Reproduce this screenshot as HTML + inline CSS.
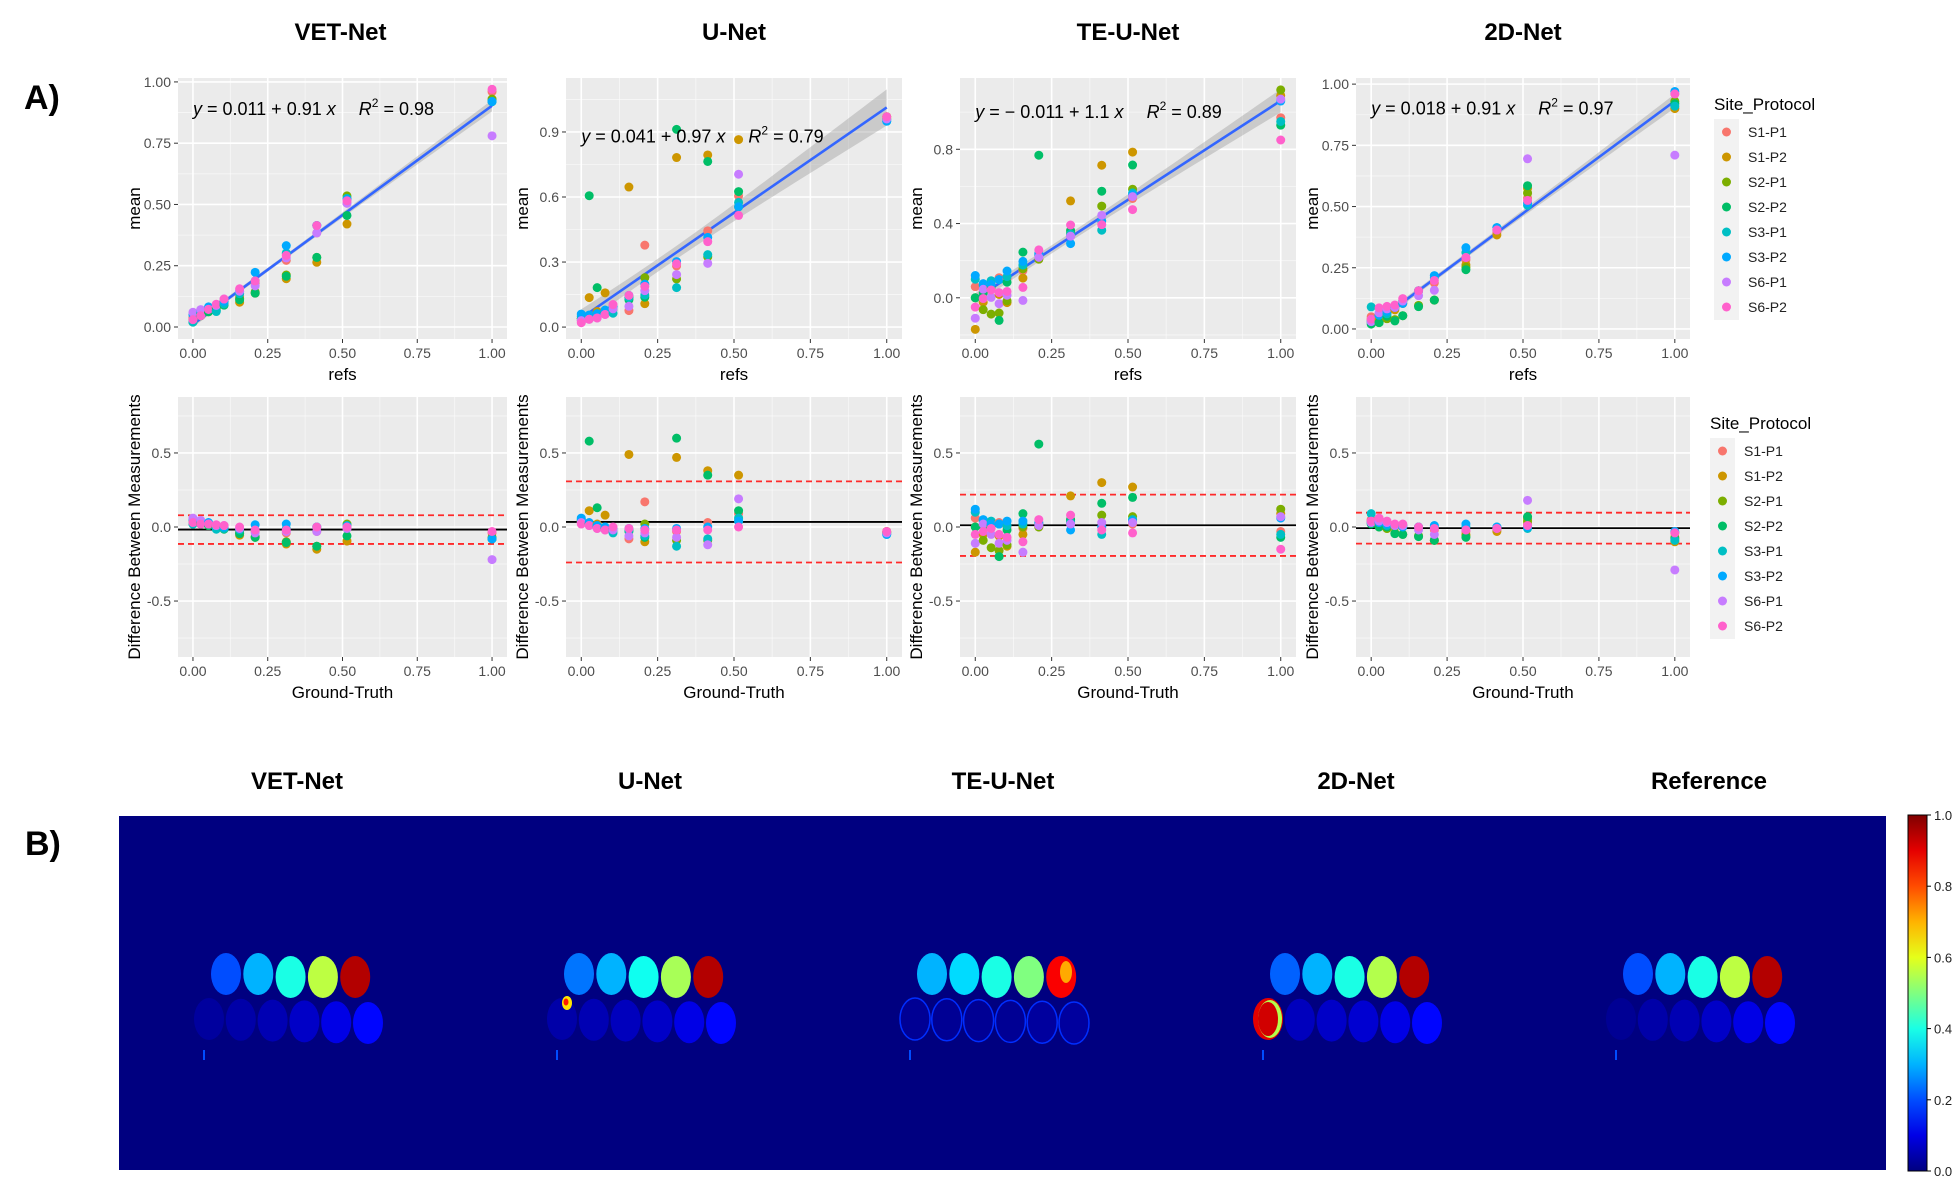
<!DOCTYPE html>
<html><head><meta charset="utf-8"><title>Model comparison</title>
<style>
html,body{margin:0;padding:0;background:#fff;}
svg{display:block;font-family:"Liberation Sans",Arial,sans-serif;}
</style></head>
<body>
<svg id="fig" width="1954" height="1178" viewBox="0 0 1954 1178" xmlns="http://www.w3.org/2000/svg">
<rect x="0" y="0" width="1954" height="1178" fill="#fff"/>
<text x="24" y="109" font-size="34" font-weight="bold">A)</text>
<text x="25" y="855" font-size="34" font-weight="bold">B)</text>
</svg>
<script>
// ---------- DATA ----------
const seriesNames = ["S1-P1","S1-P2","S2-P1","S2-P2","S3-P1","S3-P2","S6-P1","S6-P2"];
const seriesColors = ["#F8766D","#CD9600","#7CAE00","#00BE67","#00BFC4","#00A9FF","#C77CFF","#FF61CC"];
const refs = [0,0.026,0.052,0.078,0.104,0.156,0.208,0.312,0.414,0.515,1.0];
const modelNames = ["VET-Net","U-Net","TE-U-Net","2D-Net"];
// differences (mean - ref); rows = refs, columns = series
const diffVET = [
 [0.04,0.03,0.03,0.02,0.02,0.05,0.06,0.03],
 [0.03,0.02,0.03,0.02,0.03,0.04,0.045,0.02],
 [0.02,0.02,0.01,0.01,0.02,0.03,0.02,0.02],
 [0.01,0.0,0.0,-0.01,-0.015,0.01,0.01,0.015],
 [0.0,0.0,-0.01,-0.015,-0.01,0.0,0.01,0.01],
 [-0.03,-0.055,-0.04,-0.045,-0.02,-0.01,-0.01,0.0],
 [-0.03,-0.07,-0.065,-0.07,-0.02,0.015,-0.04,-0.02],
 [-0.04,-0.115,-0.1,-0.105,-0.01,0.02,-0.03,-0.02],
 [-0.03,-0.15,-0.13,-0.13,0.0,0.0,-0.03,0.0],
 [-0.01,-0.095,0.02,-0.06,0.01,0.005,-0.01,0.0],
 [-0.04,-0.08,-0.07,-0.08,-0.08,-0.08,-0.22,-0.03]
];
const diffUNet = [
 [0.03,0.04,0.04,0.04,0.05,0.06,0.03,0.02],
 [0.02,0.11,0.02,0.58,0.02,0.03,0.01,0.01],
 [0.0,0.02,0.01,0.13,0.0,0.01,-0.01,-0.01],
 [-0.01,0.08,-0.01,-0.01,0.0,0.0,-0.02,-0.02],
 [-0.01,-0.02,-0.02,-0.02,-0.04,-0.01,-0.02,0.0],
 [-0.08,0.49,-0.02,-0.03,-0.02,-0.01,-0.06,-0.01],
 [0.17,-0.1,0.02,-0.07,-0.06,-0.01,-0.04,-0.02],
 [-0.03,0.47,-0.09,0.6,-0.13,-0.01,-0.07,-0.02],
 [0.03,0.38,-0.09,0.35,-0.08,0.0,-0.12,-0.02],
 [0.09,0.35,0.04,0.11,0.06,0.04,0.19,0.0],
 [-0.03,-0.03,-0.04,-0.04,-0.05,-0.05,-0.04,-0.03]
];
const diffTEUNet = [
 [0.06,-0.17,0.0,0.0,0.10,0.12,-0.11,-0.05],
 [0.01,-0.05,-0.09,0.0,0.04,0.05,0.02,-0.03],
 [0.02,0.0,-0.14,0.01,0.04,0.02,-0.05,-0.01],
 [0.03,-0.06,-0.16,-0.2,0.02,0.02,-0.11,-0.05],
 [0.0,-0.13,-0.12,-0.02,0.01,0.04,-0.09,-0.07],
 [-0.01,-0.05,0.0,0.09,0.02,0.04,-0.17,-0.1],
 [0.02,0.0,0.0,0.56,0.02,0.03,0.01,0.05],
 [0.02,0.21,0.04,0.05,0.03,-0.02,0.02,0.08],
 [0.0,0.3,0.08,0.16,-0.05,0.0,0.03,-0.02],
 [0.02,0.27,0.07,0.2,0.05,0.04,0.03,-0.04],
 [-0.03,0.09,0.12,-0.07,-0.05,0.06,0.07,-0.15]
];
const diff2DNet = [
 [0.05,0.04,0.03,0.02,0.09,0.03,0.03,0.04],
 [0.02,0.01,0.0,0.0,0.03,0.03,0.04,0.06],
 [0.02,-0.01,-0.01,0.0,0.01,0.02,0.03,0.04],
 [0.01,0.0,-0.04,-0.045,0.01,0.01,0.01,0.02],
 [0.01,0.0,-0.05,-0.05,0.01,0.0,0.01,0.02],
 [0.0,-0.06,-0.06,-0.065,0.0,0.0,-0.02,0.0],
 [-0.02,-0.09,-0.09,-0.09,0.0,0.01,-0.05,-0.01],
 [-0.03,-0.05,-0.06,-0.07,0.0,0.02,-0.02,-0.02],
 [-0.02,-0.03,-0.01,-0.01,0.0,0.0,-0.01,-0.01],
 [0.02,0.06,0.04,0.07,-0.01,0.0,0.18,0.01],
 [-0.04,-0.1,-0.07,-0.08,-0.09,-0.03,-0.29,-0.04]
];
const eqIntercepts = ["0.011","0.041","\u2212 0.011","0.018"];
const eqSlopes = ["0.91","0.97","1.1","0.91"];
const eqR2 = ["0.98","0.79","0.89","0.97"];
const topYTicks = [[0,0.25,0.5,0.75,1],[0,0.3,0.6,0.9],[0,0.4,0.8],[0,0.25,0.5,0.75,1]];
const xTicks = [0,0.25,0.5,0.75,1];
const baYTicks = [-0.5,0,0.5];
const cbTicks = [0,0.2,0.4,0.6,0.8,1.0];
// heatmap vial values (0..1)
const heatNames = ["VET-Net","U-Net","TE-U-Net","2D-Net","Reference"];
const heatTop = [[0.2,0.3,0.4,0.56,0.95],[0.24,0.3,0.39,0.54,0.95],[0.3,0.34,0.4,0.5,0.88],[0.22,0.3,0.4,0.55,0.95],[0.2,0.3,0.4,0.56,0.95]];
const heatBottom = [[0.03,0.04,0.05,0.07,0.1,0.13],[0.04,0.05,0.06,0.07,0.1,0.13],[0.02,0.02,0.02,0.02,0.03,0.03],[0.9,0.06,0.07,0.08,0.1,0.13],[0.02,0.04,0.05,0.07,0.1,0.13]];

// ---------- LAYOUT ----------
const diffs = [diffVET,diffUNet,diffTEUNet,diff2DNet];
const colL = [178,566,960,1356], colW = [329,336,336,334];
const xDom = [-0.05,1.05];
const topDom = [[-0.049,1.016],[-0.055,1.149],[-0.222,1.184],[-0.041,1.025]];
const topY0 = 78, topY1 = 339, baY0 = 397, baY1 = 657, baDom = [-0.878,0.878];
const eqYPos = [0.89,0.88,1.0,0.9];
const tickDec = [2,1,1,2];
const svg = document.getElementById('fig');
const NS = 'http://www.w3.org/2000/svg';
function mk(tag, attrs, parent){const e=document.createElementNS(NS,tag);for(const k in attrs)e.setAttribute(k,attrs[k]);(parent||svg).appendChild(e);return e;}

function jet(v){v=Math.max(0,Math.min(1,v));
  const r=Math.max(0,Math.min(1,Math.min(4*v-1.5,-4*v+4.5)));
  const g=Math.max(0,Math.min(1,Math.min(4*v-0.5,-4*v+3.5)));
  const b=Math.max(0,Math.min(1,Math.min(4*v+0.5,-4*v+2.5)));
  return `rgb(${Math.round(r*255)},${Math.round(g*255)},${Math.round(b*255)})`;}

function drawPanel(c, isBA){
  const L=colL[c], W=colW[c], T=isBA?baY0:topY0, B=isBA?baY1:topY1;
  const yd = isBA?baDom:topDom[c];
  const sx = v=> L + (v-xDom[0])/(xDom[1]-xDom[0])*W;
  const sy = v=> B - (v-yd[0])/(yd[1]-yd[0])*(B-T);
  const g = mk('g',{});
  
  
  mk('rect',{x:L,y:T,width:W,height:B-T,fill:'#EBEBEB'},g);
  const yt = isBA?baYTicks:topYTicks[c];
  const step = yt[1]-yt[0];
  for(let v=yt[0]-step/2; v<=yd[1]; v+=step){ if(v>yd[0]) mk('line',{x1:L,x2:L+W,y1:sy(v),y2:sy(v),stroke:'#fff','stroke-width':0.8,opacity:0.6},g);}
  for(let i=0;i<xTicks.length-1;i++){const v=(xTicks[i]+xTicks[i+1])/2; mk('line',{x1:sx(v),x2:sx(v),y1:T,y2:B,stroke:'#fff','stroke-width':0.8,opacity:0.6},g);}
  yt.forEach(v=>{
    mk('line',{x1:L,x2:L+W,y1:sy(v),y2:sy(v),stroke:'#fff','stroke-width':1.6},g);
    mk('line',{x1:L-4,x2:L,y1:sy(v),y2:sy(v),stroke:'#333','stroke-width':1},g);
    const t=mk('text',{x:L-7,y:sy(v)+5,'font-size':14,fill:'#4D4D4D','text-anchor':'end'},g);
    t.textContent = isBA? v.toFixed(1) : v.toFixed(tickDec[c]);
    
    
  });
  xTicks.forEach(v=>{
    mk('line',{x1:sx(v),x2:sx(v),y1:T,y2:B,stroke:'#fff','stroke-width':1.6},g);
    mk('line',{x1:sx(v),x2:sx(v),y1:B,y2:B+4,stroke:'#333','stroke-width':1},g);
    const t=mk('text',{x:sx(v),y:B+19,'font-size':14,fill:'#4D4D4D','text-anchor':'middle'},g);
    t.textContent=v.toFixed(2);
    
    
  });
  const D = diffs[c];
  if(!isBA){
    const xs=[],ys=[];
    refs.forEach((r,i)=>D[i].forEach(d=>{xs.push(r);ys.push(r+d);}));
    const n=xs.length, mx=xs.reduce((a,b)=>a+b)/n, my=ys.reduce((a,b)=>a+b)/n;
    let sxx=0,sxy=0; for(let i=0;i<n;i++){sxx+=(xs[i]-mx)**2;sxy+=(xs[i]-mx)*(ys[i]-my);}
    const b=sxy/sxx, a=my-b*mx;
    let sse=0; for(let i=0;i<n;i++) sse+=(ys[i]-a-b*xs[i])**2;
    const s=Math.sqrt(sse/(n-2));
    const up=[],lo=[];
    for(let k=0;k<=40;k++){const x=k/40; const h=1.99*s*Math.sqrt(1/n+(x-mx)**2/sxx); up.push(sx(x)+','+sy(a+b*x+h)); lo.unshift(sx(x)+','+sy(a+b*x-h));}
    const band=mk('polygon',{points:up.concat(lo).join(' '),fill:'#999',opacity:0.4},g);
    
    
    const fit=mk('line',{x1:sx(0),y1:sy(a),x2:sx(1),y2:sy(a+b),stroke:'#3366FF','stroke-width':2.6},g);
    
    
  } else {
    const all=[]; D.forEach(row=>row.forEach(d=>all.push(d)));
    const n=all.length, m=all.reduce((a,b)=>a+b)/n;
    const sd=Math.sqrt(all.reduce((a,b)=>a+(b-m)**2,0)/(n-1));
    [m+1.96*sd, m-1.96*sd].forEach((v,k)=>{
      const l=mk('line',{x1:L,x2:L+W,y1:sy(v),y2:sy(v),stroke:'#FF2A2A','stroke-width':1.8,'stroke-dasharray':'6,4'},g);
      
      
    });
    const ml=mk('line',{x1:L,x2:L+W,y1:sy(m),y2:sy(m),stroke:'#000','stroke-width':1.8},g);
    
    
  }
  refs.forEach((r,i)=>{
    D[i].forEach((d,s)=>{
      const yv = isBA? d : r+d;
      const p=mk('circle',{cx:sx(r),cy:sy(yv),r:4.5,fill:seriesColors[s]},g);
      
      
    });
  });
  const cxm = sx(0.5);
  const xt=mk('text',{x:cxm,y:B+41,'font-size':17,'text-anchor':'middle',fill:'#000'},g);
  xt.textContent = isBA?'Ground-Truth':'refs';
  
  
  const yx = L-38, ym=(T+B)/2;
  const ytt=mk('text',{x:yx,y:ym,'font-size':17,'text-anchor':'middle',fill:'#000',transform:`rotate(-90 ${yx} ${ym})`},g);
  ytt.textContent = isBA?'Difference Between Measurements':'mean';
  
  
  if(!isBA){
    const eq=mk('text',{x:sx(0),y:sy(eqYPos[c])+6,'font-size':18,fill:'#000'},g);
    
    
    eq.innerHTML = `<tspan font-style="italic">y</tspan> = ${eqIntercepts[c]} + ${eqSlopes[c]} <tspan font-style="italic">x</tspan>\u2003 <tspan font-style="italic">R</tspan><tspan dy="-8" font-size="12">2</tspan><tspan dy="8"> = ${eqR2[c]}</tspan>`;
  }
}
for(let c=0;c<4;c++){
  const t=mk('text',{x:colL[c]+colW[c]/2+ (c===0?-2:0),y:40,'font-size':24,'font-weight':'bold','text-anchor':'middle'});
  t.textContent=modelNames[c];
  
  
  drawPanel(c,false); drawPanel(c,true);
}
function legend(x,yTitle,yBox){
  const g=mk('g',{});
  
  
  const t=mk('text',{x:x,y:yTitle+6,'font-size':17},g); t.textContent='Site_Protocol';
  mk('rect',{x:x,y:yBox,width:25,height:201,fill:'#F2F2F2'},g);
  seriesNames.forEach((n,i)=>{
    const e=mk('g',{},g);
    
    
    mk('circle',{cx:x+12.5,cy:yBox+13+25*i,r:4.5,fill:seriesColors[i]},e);
    const l=mk('text',{x:x+34,y:yBox+18+25*i,'font-size':14,fill:'#222'},e); l.textContent=n;
  });
}
legend(1714,104,119); legend(1710,423,438);

// ---------- HEATMAPS ----------
const hg=mk('g',{});


mk('rect',{x:119,y:816,width:1767,height:354,fill:jet(0)},hg);
heatNames.forEach((nm,k)=>{
  const dx=353*k;
  const t=mk('text',{x:297+dx,y:789,'font-size':24,'font-weight':'bold','text-anchor':'middle'});
  t.textContent=nm;
  
  
  const pg=mk('g',{},hg);
  
  
  heatTop[k].forEach((v,i)=>{
    const e=mk('ellipse',{cx:226+dx+32.3*i,cy:975+(i<2?-1:2),rx:15,ry:21,fill:jet(v)},pg);
    
    
  });
  heatBottom[k].forEach((v,i)=>{
    const isRing = (k===2);
    const e=mk('ellipse',{cx:209+dx+31.8*i,cy:1019+i*0.8,rx:15,ry:21,fill:jet(v)},pg);
    if(isRing){e.setAttribute('stroke',jet(0.17));e.setAttribute('stroke-width',1.5);}
    
    
  });
  mk('rect',{x:203+dx,y:1050,width:2,height:10,fill:jet(0.2)},pg);
});
// artifacts
mk('ellipse',{cx:567,cy:1003,rx:5,ry:7,fill:jet(0.65)},hg);
mk('ellipse',{cx:566,cy:1002,rx:2.5,ry:3.5,fill:jet(0.85)},hg);
mk('ellipse',{cx:1066,cy:972,rx:6,ry:11,fill:jet(0.68),opacity:0.85},hg);
mk('ellipse',{cx:1270,cy:1019,rx:12,ry:19,fill:jet(0.55)},hg);
mk('ellipse',{cx:1268,cy:1019,rx:10,ry:17,fill:jet(0.92)},hg);

// colorbar
const defs=mk('defs',{});
const grad=mk('linearGradient',{id:'jetg',x1:0,y1:1,x2:0,y2:0},defs);
for(let i=0;i<=10;i++){mk('stop',{offset:(i/10),'stop-color':jet(i/10)},grad);}
const cb=mk('rect',{x:1908,y:815,width:19,height:356,fill:'url(#jetg)',stroke:'#000','stroke-width':1});


cbTicks.forEach(v=>{
  const y=1171-v*356;
  mk('line',{x1:1927,x2:1931,y1:y,y2:y,stroke:'#000'});
  const t=mk('text',{x:1934,y:y+5,'font-size':13,fill:'#222'});
  t.textContent=v.toFixed(1);
  
  
});
</script>
</body></html>
